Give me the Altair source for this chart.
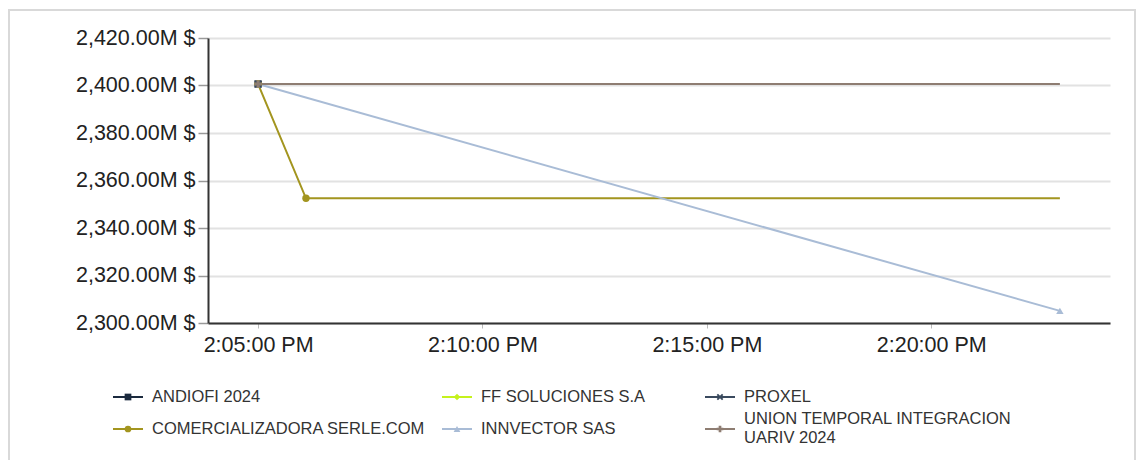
import altair as alt
import pandas as pd

# ---- data ----
SERIES = [
    "ANDIOFI 2024",
    "COMERCIALIZADORA SERLE.COM",
    "FF SOLUCIONES S.A",
    "INNVECTOR SAS",
    "PROXEL",
    "UNION TEMPORAL INTEGRACION UARIV 2024",
]
LEGEND_LABELS = [
    "ANDIOFI 2024",
    "COMERCIALIZADORA SERLE.COM",
    "FF SOLUCIONES S.A",
    "INNVECTOR SAS",
    "PROXEL",
    "UNION TEMPORAL INTEGRACION\nUARIV 2024",
]
COLORS = ["#1b2a3e", "#a3951f", "#c5f21d", "#a9bcd6", "#3a4a5e", "#8e7d72"]
XSHAPE = "M-1,-0.6L-0.6,-1L0,-0.4L0.6,-1L1,-0.6L0.4,0L1,0.6L0.6,1L0,0.4L-0.6,1L-1,0.6L-0.4,0Z"
SHAPES = ["square", "circle", "diamond", "triangle-up", XSHAPE, "cross"]

TIMES = {
    "ANDIOFI 2024": ["14:05:00"],
    "COMERCIALIZADORA SERLE.COM": ["14:05:00", "14:06:04", "14:22:52"],
    "FF SOLUCIONES S.A": ["14:05:00"],
    "INNVECTOR SAS": ["14:05:00", "14:22:52"],
    "PROXEL": ["14:05:00"],
    "UNION TEMPORAL INTEGRACION UARIV 2024": ["14:05:00", "14:22:52"],
}
VALUES = {  # millions of $
    "ANDIOFI 2024": [2400.6],
    "COMERCIALIZADORA SERLE.COM": [2400.6, 2352.5, 2352.5],
    "FF SOLUCIONES S.A": [2400.6],
    "INNVECTOR SAS": [2400.6, 2305.1],
    "PROXEL": [2400.6],
    "UNION TEMPORAL INTEGRACION UARIV 2024": [2400.6, 2400.6],
}
MARKERS = {
    "ANDIOFI 2024": [True],
    "COMERCIALIZADORA SERLE.COM": [True, True, False],
    "FF SOLUCIONES S.A": [True],
    "INNVECTOR SAS": [True, True],
    "PROXEL": [True],
    "UNION TEMPORAL INTEGRACION UARIV 2024": [True, False],
}
Y_TICKS = [2300, 2320, 2340, 2360, 2380, 2400, 2420]
X_TICKS = [(14, 5), (14, 10), (14, 15), (14, 20)]
X_DOMAIN = [(14, 3, 53), (14, 23, 59)]
LEG_COL = [0, 0, 1, 1, 2, 2]
LEG_ROW = [0, 1, 0, 1, 0, 1]

DAY = "2024-01-01"


def dt(h, m, s=0):
    return alt.DateTime(year=2024, month=1, date=1, hours=h, minutes=m, seconds=s)


rows = []
for name in SERIES:
    for t, v, mk in zip(TIMES[name], VALUES[name], MARKERS[name]):
        rows.append({"series": name, "time": f"{DAY}T{t}", "value": v, "marker": mk})
df = pd.DataFrame(rows)

leg_df = pd.DataFrame({
    "series": SERIES,
    "label": LEGEND_LABELS,
    "col": LEG_COL,
    "row": LEG_ROW,
    "multi": ["\n" in s for s in LEGEND_LABELS],
})

FONT = "Liberation Sans"
color_scale = alt.Scale(domain=SERIES, range=COLORS)
shape_scale = alt.Scale(domain=SERIES, range=SHAPES)

x_enc = alt.X(
    "time:T",
    scale=alt.Scale(domain=[dt(*X_DOMAIN[0]), dt(*X_DOMAIN[1])]),
    axis=alt.Axis(
        values=[dt(h, m) for h, m in X_TICKS],
        format="%-I:%M:%S %p",
        title=None,
        grid=False,
        domainColor="#333333",
        domainWidth=2,
        tickColor="#bbbbbb",
        tickSize=5,
        labelFont=FONT,
        labelFontSize=21.5,
        labelColor="#222222",
        labelPadding=6,
    ),
)
y_enc = alt.Y(
    "value:Q",
    scale=alt.Scale(domain=[Y_TICKS[0], Y_TICKS[-1]], nice=False, zero=False),
    axis=alt.Axis(
        values=Y_TICKS,
        labelExpr="format(datum.value, ',.2f') + 'M $'",
        title=None,
        grid=True,
        gridColor="#e2e2e2",
        gridWidth=2,
        domainColor="#333333",
        domainWidth=2,
        tickColor="#999999",
        tickSize=10,
        tickWidth=1.5,
        labelFont=FONT,
        labelFontSize=21.5,
        labelColor="#222222",
        labelPadding=3,
    ),
)

lines = alt.Chart(df).mark_line(strokeWidth=2).encode(
    x=x_enc,
    y=y_enc,
    color=alt.Color("series:N", scale=color_scale, legend=None),
    detail="series:N",
)
points = (
    alt.Chart(df)
    .transform_filter("datum.marker")
    .mark_point(filled=True, size=55, opacity=1)
    .encode(
        x=alt.X("time:T"),
        y=alt.Y("value:Q"),
        color=alt.Color("series:N", scale=color_scale, legend=None),
        shape=alt.Shape("series:N", scale=shape_scale, legend=None),
    )
)
main = alt.layer(lines, points)

LEG_X = alt.Scale(domain=[0, 1, 2], range=[-80, 249, 512], nice=False, zero=False)
LEG_Y = alt.Scale(domain=[0, 1], range=[359, 391], nice=False, zero=False)

leg_rule = alt.Chart(leg_df).mark_rule(strokeWidth=2, xOffset=-15, x2Offset=15).encode(
    x=alt.X("col:Q", scale=LEG_X, axis=None),
    x2=alt.X2("col"),
    y=alt.Y("row:Q", scale=LEG_Y, axis=None),
    color=alt.Color("series:N", scale=color_scale, legend=None),
)
leg_pts = alt.Chart(leg_df).mark_point(filled=True, size=45, opacity=1).encode(
    x=alt.X("col:Q", scale=LEG_X, axis=None),
    y=alt.Y("row:Q", scale=LEG_Y, axis=None),
    color=alt.Color("series:N", scale=color_scale, legend=None),
    shape=alt.Shape("series:N", scale=shape_scale, legend=None),
)
text_style = dict(
    align="left", baseline="middle", dx=24, font=FONT, fontSize=16.5,
    color="#333333", lineBreak="\n", lineHeight=19,
)
leg_text_single = (
    alt.Chart(leg_df)
    .transform_filter("!datum.multi")
    .mark_text(**text_style)
    .encode(
        x=alt.X("col:Q", scale=LEG_X, axis=None),
        y=alt.Y("row:Q", scale=LEG_Y, axis=None),
        text="label:N",
    )
)
leg_text_multi = (
    alt.Chart(leg_df)
    .transform_filter("datum.multi")
    .mark_text(dy=-10, **text_style)
    .encode(
        x=alt.X("col:Q", scale=LEG_X, axis=None),
        y=alt.Y("row:Q", scale=LEG_Y, axis=None),
        text="label:N",
    )
)
legend = alt.layer(leg_rule, leg_pts, leg_text_single, leg_text_multi)

frame = alt.Chart(pd.DataFrame({"k": [0]})).mark_rect(
    fill=None, stroke="#d9d9d9", strokeWidth=2
).encode(
    x=alt.value(-199), x2=alt.value(927), y=alt.value(-28), y2=alt.value(440)
)

chart = (
    alt.layer(frame, main, legend)
    .resolve_scale(x="independent", y="independent")
    .properties(
        width=902,
        height=285,
        autosize=alt.AutoSizeParams(type="none"),
        padding={"left": 200, "top": 30, "right": 26, "bottom": 137},
        background="white",
    )
    .configure_view(stroke=None)
)

chart.save("out.html", embed_options={"renderer": "svg", "actions": False})
